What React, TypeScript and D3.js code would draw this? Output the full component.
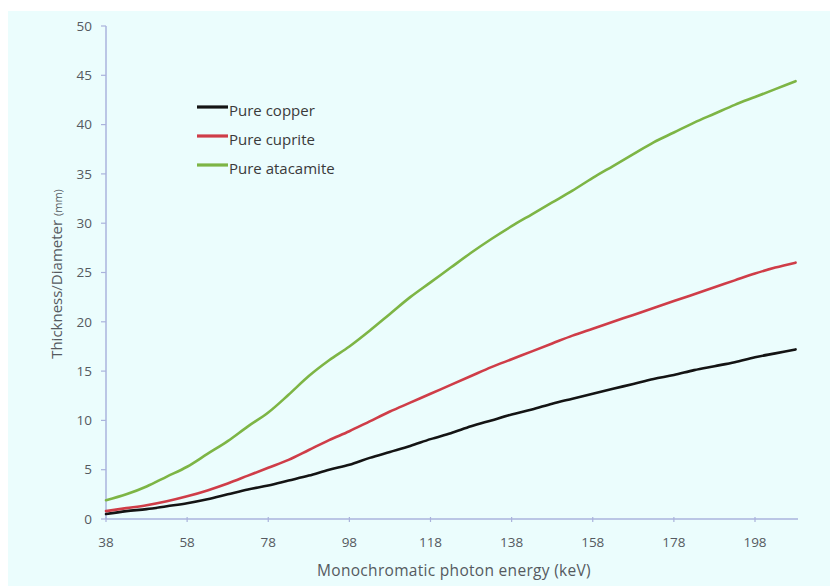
import React from "react";
import * as d3 from "d3";

const energies = [38,43,48,53,58,63,68,73,78,83,88,93,98,103,108,113,118,123,128,133,138,143,148,153,158,163,168,173,178,183,188,193,198,203,208];
const copper = [0.5,0.8,1.0,1.3,1.6,2.0,2.5,3.0,3.4,3.9,4.4,5.0,5.5,6.2,6.8,7.4,8.1,8.7,9.4,10.0,10.6,11.1,11.7,12.2,12.7,13.2,13.7,14.2,14.6,15.1,15.5,15.9,16.4,16.8,17.2];
const cuprite = [0.8,1.1,1.4,1.8,2.3,2.9,3.6,4.4,5.2,6.0,7.0,8.0,8.9,9.9,10.9,11.8,12.7,13.6,14.5,15.4,16.2,17.0,17.8,18.6,19.3,20.0,20.7,21.4,22.1,22.8,23.5,24.2,24.9,25.5,26.0];
const atacamite = [1.9,2.5,3.3,4.3,5.3,6.6,7.9,9.4,10.8,12.6,14.5,16.1,17.5,19.1,20.8,22.5,24.0,25.5,27.0,28.4,29.7,30.9,32.1,33.3,34.6,35.8,37.0,38.2,39.2,40.2,41.1,42.0,42.8,43.6,44.4];
const xTicks = [38,58,78,98,118,138,158,178,198];
const yTicks = [0,5,10,15,20,25,30,35,40,45,50];
const seriesNames = ["Pure copper","Pure cuprite","Pure atacamite"];
const seriesColors = ["#141414","#cf3d48","#7db545"];

export default function App() {
  const W = 830, H = 586;
  const left = 106, right = 798, top = 26, bottom = 519;
  const x = d3.scaleLinear().domain([38, 208.6]).range([left, right]);
  const y = d3.scaleLinear().domain([0, 50]).range([bottom, top]);
  const series = [copper, cuprite, atacamite];
  const line = d3.line<[number, number]>().x(d => x(d[0])).y(d => y(d[1])).curve(d3.curveMonotoneX);
  const axisColor = "#aab3dc";
  const textColor = "#555a60";
  const font = "'Open Sans', 'DejaVu Sans', sans-serif";
  return (
    <svg width={W} height={H} style={{ position: "absolute", left: 0, top: 0, display: "block" }} fontFamily={font}>
      <rect x={0} y={0} width={W} height={H} fill="#ffffff" />
      <rect x={8} y={11} width={W - 8} height={H - 11} fill="#ebfdfd" />
      <line x1={left} x2={left} y1={top} y2={bottom} stroke={axisColor} strokeWidth={1.5} />
      <line x1={left} x2={right} y1={bottom} y2={bottom} stroke={axisColor} strokeWidth={1.5} />
      {yTicks.map(t => (
        <g key={"y" + t}>
          <line x1={left - 5} x2={left} y1={y(t)} y2={y(t)} stroke={axisColor} strokeWidth={1.2} />
          <text x={92} y={y(t)} dy="0.35em" textAnchor="end" fontSize={13.5} fill={textColor}>{t}</text>
        </g>
      ))}
      {xTicks.map(t => (
        <g key={"x" + t}>
          <line x1={x(t)} x2={x(t)} y1={bottom - 2} y2={bottom + 3} stroke={axisColor} strokeWidth={1.2} />
          <text x={x(t)} y={542} dy="0.35em" textAnchor="middle" fontSize={13.5} fill={textColor}>{t}</text>
        </g>
      ))}
      <text x={454} y={571} dy="0.35em" textAnchor="middle" fontSize={15.5} letterSpacing={0.3} fill={textColor}>Monochromatic photon energy (keV)</text>
      <text transform={`translate(57,274) rotate(-90)`} dy="0.35em" textAnchor="middle" fontSize={15} fill={textColor}>
        Thickness/Diameter <tspan fontSize={11}>(mm)</tspan>
      </text>
      {series.map((s, i) => (
        <path key={"s" + i} d={line(energies.map((e, j) => [e, s[j]] as [number, number])) || ""} fill="none" stroke={seriesColors[i]} strokeWidth={2.6} strokeLinecap="round" />
      ))}
      {seriesNames.map((n, i) => (
        <g key={"l" + i}>
          <line x1={197} x2={228} y1={107 + i * 29} y2={107 + i * 29} stroke={seriesColors[i]} strokeWidth={3.2} />
          <text x={229} y={111 + i * 29} dy="0.35em" fontSize={15} fill="#3a3a3a">{n}</text>
        </g>
      ))}
    </svg>
  );
}
